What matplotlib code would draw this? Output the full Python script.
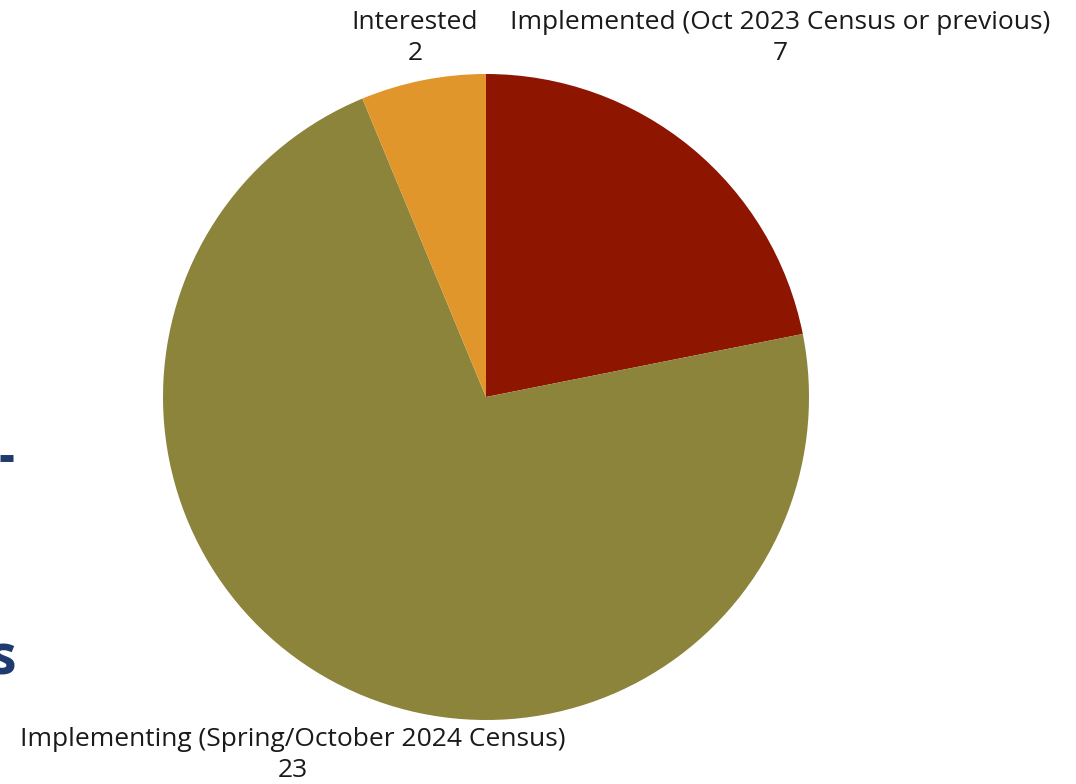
import matplotlib.pyplot as plt

labels = ["Implemented (Oct 2023 Census or previous)",
          "Implementing (Spring/October 2024 Census)",
          "Interested"]
values = [7, 23, 2]
colors = ["#8E1500", "#8C843A", "#E0962B"]

W, H = 1076, 784
fig = plt.figure(figsize=(W / 100, H / 100), dpi=100)
ax = fig.add_axes([0, 0, 1, 1])

cx, cy, r = 486, H - 397, 323
ax.pie(values, colors=colors, startangle=90, counterclock=False,
       center=(cx, cy), radius=r, frame=True,
       wedgeprops=dict(linewidth=0))
ax.set_xlim(0, W)
ax.set_ylim(0, H)
ax.set_aspect("equal")
ax.axis("off")

# data labels
label_pos = [(780, H - 38), (293, H - 755), (415, H - 38)]
for lab, val, (x, y) in zip(labels, values, label_pos):
    ax.text(x, y, f"{lab}\n{val}", ha="center", va="center",
            fontsize=19, family="Open Sans", color="#1a1a1a",
            linespacing=1.32)

# cropped slide title fragments on the left edge
navy = "#1E3A6E"
ax.plot([0, 13], [H - 458, H - 458], color=navy, lw=5, solid_capstyle="butt")
ax.text(16, H - 660, "s", ha="right", va="center", fontsize=40,
        fontweight="bold", family="Open Sans", color=navy)

fig.savefig("out.png", dpi=100)
